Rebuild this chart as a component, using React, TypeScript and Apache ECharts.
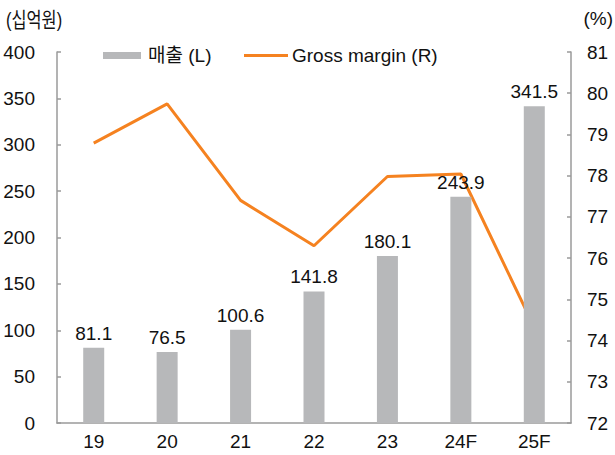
import React, { useEffect, useRef } from "react";
import * as echarts from "echarts";

const categories = ["19", "20", "21", "22", "23", "24F", "25F"];
const sales = [81.1, 76.5, 100.6, 141.8, 180.1, 243.9, 341.5];
const grossMargin = [78.79, 79.74, 77.4, 76.3, 77.98, 78.04, 74.32];
const salesName = "매출 (L)";
const marginName = "Gross margin (R)";
const leftUnit = "(십억원)";
const rightUnit = "(%)";

const FONT = "'Liberation Sans', 'Noto Sans CJK KR', Arial, sans-serif";
const GRAY = "#b7b8ba";
const ORANGE = "#f58220";
const AXIS = "#9a9a9a";

export default function App() {
  const ref = useRef<HTMLDivElement>(null);
  useEffect(() => {
    if (!ref.current) return;
    const chart = echarts.init(ref.current, undefined, { renderer: "svg" });
    chart.setOption({
      animation: false,
      textStyle: { fontFamily: FONT },
      grid: { left: 57, right: 44, top: 52, bottom: 32, containLabel: false },
      legend: [
        {
          data: [{ name: salesName, icon: "rect" }],
          left: 98,
          top: 41,
          itemWidth: 38,
          itemHeight: 7,
          itemGap: 0,
          textStyle: { fontSize: 19, color: "#111", fontFamily: FONT, padding: [0, 0, 0, 2] },
        },
        {
          data: [{ name: marginName, icon: "rect" }],
          left: 239,
          top: 41,
          itemWidth: 44,
          itemHeight: 3,
          itemGap: 0,
          textStyle: { fontSize: 19, color: "#111", fontFamily: FONT, padding: [0, 0, 0, -1] },
        },
      ],
      graphic: [
        {
          type: "text",
          x: 6,
          y: 9,
          scaleX: 0.78,
          style: { text: leftUnit, fontSize: 21, fill: "#111", fontFamily: FONT },
        },
        {
          type: "text",
          right: 2,
          top: 9,
          style: { text: rightUnit, fontSize: 19, fill: "#111", fontFamily: FONT },
        },
      ],
      xAxis: {
        type: "category",
        data: categories,
        boundaryGap: true,
        axisLine: { lineStyle: { color: AXIS, width: 1.5 } },
        axisTick: { inside: true, length: 5, lineStyle: { color: AXIS, width: 1.5 } },
        axisLabel: { fontSize: 19, color: "#111", margin: 9, fontFamily: FONT },
      },
      yAxis: [
        {
          type: "value",
          min: 0,
          max: 400,
          interval: 50,
          splitLine: { show: false },
          axisLine: { show: true, lineStyle: { color: AXIS, width: 1.5 } },
          axisTick: { show: true, inside: true, length: 4, lineStyle: { color: AXIS, width: 1.5 } },
          axisLabel: { fontSize: 19, color: "#111", margin: 22, fontFamily: FONT },
        },
        {
          type: "value",
          min: 72,
          max: 81,
          interval: 1,
          position: "right",
          splitLine: { show: false },
          axisLine: { show: true, lineStyle: { color: AXIS, width: 1.5 } },
          axisTick: { show: true, inside: true, length: 4, lineStyle: { color: AXIS, width: 1.5 } },
          axisLabel: { fontSize: 19, color: "#111", margin: 16, fontFamily: FONT },
        },
      ],
      series: [
        {
          name: salesName,
          type: "bar",
          data: sales,
          yAxisIndex: 0,
          barWidth: 21,
          itemStyle: { color: GRAY },
          label: {
            show: true,
            position: "top",
            distance: 5,
            fontSize: 19,
            color: "#111",
            fontFamily: FONT,
            formatter: (p: any) => p.value.toFixed(1),
          },
        },
        {
          name: marginName,
          type: "line",
          data: grossMargin,
          yAxisIndex: 1,
          showSymbol: false,
          symbol: "none",
          lineStyle: { color: ORANGE, width: 3 },
          itemStyle: { color: ORANGE },
          z: 1,
        },
      ],
    });
    return () => chart.dispose();
  }, []);
  return (
    <div
      ref={ref}
      style={{ position: "fixed", left: 0, top: 0, width: 615, height: 455, background: "#fff" }}
    />
  );
}
